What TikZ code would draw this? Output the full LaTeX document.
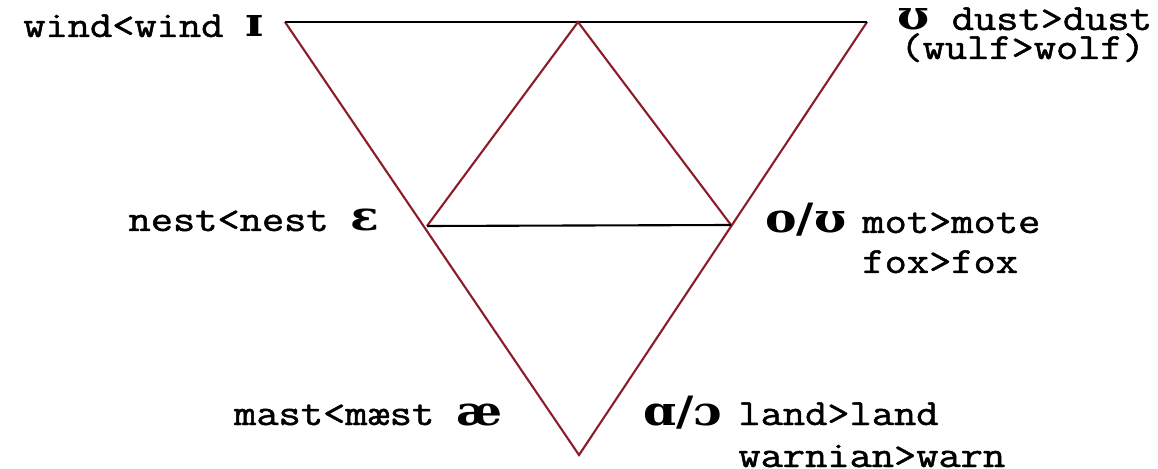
\documentclass[tikz,border=0pt]{standalone}
\usepackage{fontspec}
\newfontfamily\wordfont[FakeBold=1.2]{Latin Modern Mono}
\newfontfamily\ipafont{DejaVu Serif}
\newcommand\ipasym[1]{{\ipafont\bfseries\fontsize{23}{26}\selectfont #1}}
\definecolor{sideRed}{RGB}{140,28,42}
\tikzset{
    sideline/.style={draw=sideRed, line width=1.2pt},
    flatline/.style={draw=black, line width=1.2pt},
    vowel/.style={inner sep=0pt, font=\wordfont\fontsize{21}{24}\selectfont, xscale=1.17, transform shape}
}
\begin{document}
\begin{tikzpicture}[x=0.02cm, y=-0.02cm]
    \useasboundingbox (0, 0) rectangle (1158, 469);

    % Corners
    \coordinate (TL) at (285, 22);
    \coordinate (TR) at (867, 22);
    \coordinate (B) at (579, 455);
    \coordinate (A) at (578, 22);
    \coordinate (L) at (427, 226);
    \coordinate (R) at (731, 225);

    % Outer triangle
    \draw[sideline] (TL) -- (B) -- (TR);
    \draw[flatline] (TL) -- (TR);

    % Inner triangle
    \draw[sideline] (L) -- (A) -- (R);
    \draw[flatline] (L) -- (R);

    % Labels
    \node[vowel, anchor=base east] (lblI) at (264, 37) {wind<wind \ipasym{ɪ}};
    \node[vowel, anchor=base west] (lblU) at (897, 30) {\ipasym{ʊ} dust>dust};
    \node[vowel, anchor=base west] (lblWolf) at (900, 59) {(wulf>wolf)};
    \node[vowel, anchor=base east] (lblE) at (380, 231) {nest<nest \ipasym{ɛ}};
    \node[vowel, anchor=base west] (lblO) at (765, 233) {\ipasym{o/ʊ}};
    \node[vowel, anchor=base west] (lblMote) at (862, 233) {mot>mote};
    \node[vowel, anchor=base west] (lblFox) at (862, 273) {fox>fox};
    \node[vowel, anchor=base east] (lblAe) at (503, 425) {mast<mæst \ipasym{æ}};
    \node[vowel, anchor=base west] (lblA) at (643, 425) {\ipasym{ɑ/ɔ}};
    \node[vowel, anchor=base west] (lblLand) at (738, 425) {land>land};
    \node[vowel, anchor=base west] (lblWarn) at (738, 467) {warnian>warn};
\end{tikzpicture}
\end{document}
